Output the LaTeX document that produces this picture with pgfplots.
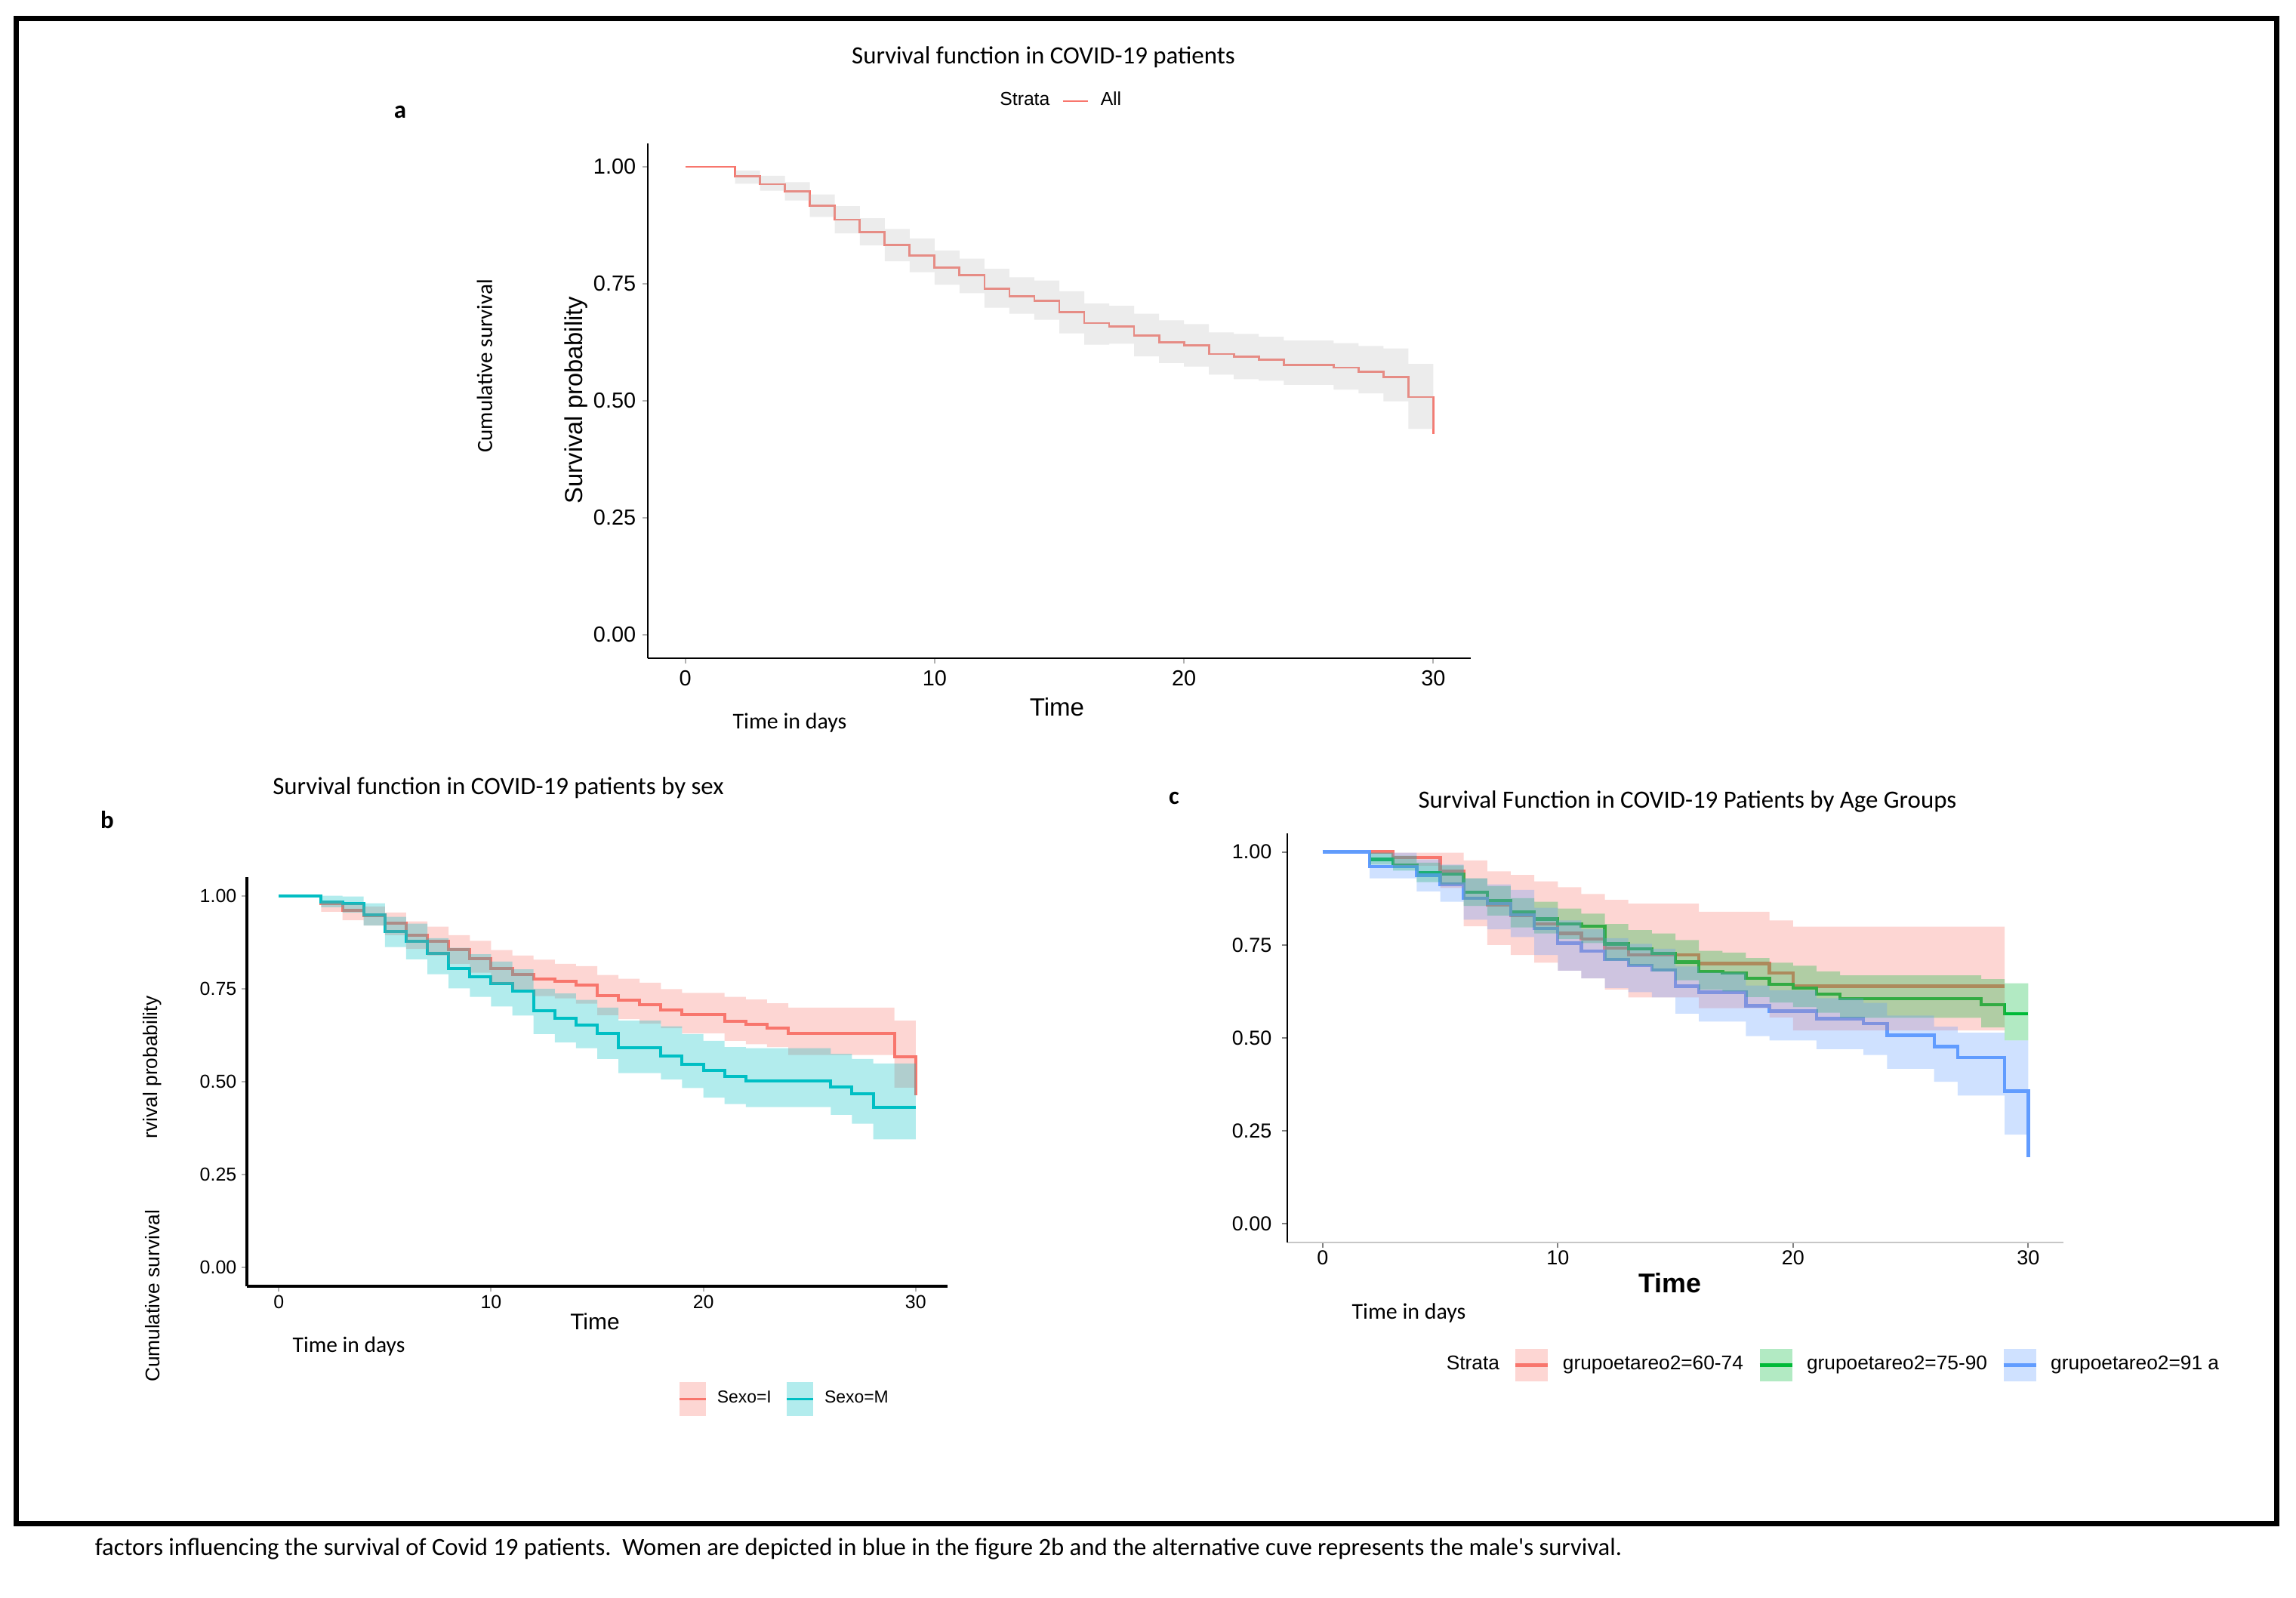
\documentclass[border=0pt]{standalone}
\usepackage{pgfplots}
\pgfplotsset{compat=1.18}
\usepackage{pgfplotstable}
\usepackage{fontspec}
\setmainfont{Liberation Sans}
\newfontfamily\calfont{Carlito}
\newcommand\fs[1]{\fontsize{#1}{#1}\selectfont}

\definecolor{kmred}{HTML}{F8766D}
\definecolor{kmcyan}{HTML}{00BFC4}
\definecolor{kmgreen}{HTML}{00BA38}
\definecolor{kmblue}{HTML}{619CFF}

% Kaplan-Meier curves: t = day, s = survival
% bands: upper limits forward (t, u), then lower limits backward (t of next step, l)
\pgfplotstableread{
t s
0 1.000
2 0.980
3 0.963
4 0.948
5 0.917
6 0.887
7 0.860
8 0.833
9 0.810
10 0.785
11 0.768
12 0.739
13 0.724
14 0.714
15 0.689
16 0.666
17 0.659
18 0.640
19 0.625
20 0.618
21 0.600
22 0.594
23 0.588
24 0.577
26 0.571
27 0.562
28 0.551
29 0.508
30 0.429
}\allS
\pgfplotstableread{
x y
0 1.000
2 0.992
3 0.981
4 0.967
5 0.941
6 0.916
7 0.890
8 0.867
9 0.847
10 0.821
11 0.804
12 0.782
13 0.764
14 0.757
15 0.734
16 0.708
17 0.703
18 0.686
19 0.672
20 0.664
21 0.646
22 0.643
23 0.637
24 0.629
26 0.623
27 0.617
28 0.612
29 0.579
30 0.579
30 0.440
29 0.499
28 0.516
27 0.524
26 0.534
24 0.543
23 0.546
22 0.556
21 0.573
20 0.581
19 0.595
18 0.622
17 0.620
16 0.644
15 0.673
14 0.686
13 0.699
12 0.730
11 0.748
10 0.775
9 0.798
8 0.832
7 0.858
6 0.893
5 0.928
4 0.949
3 0.964
2 1.000
0 1.000
}\allB

\pgfplotstableread{
t s
0 1.000
2 0.980
3 0.960
4 0.946
5 0.926
6 0.894
7 0.877
8 0.856
9 0.831
10 0.805
11 0.789
12 0.776
13 0.770
14 0.759
15 0.732
16 0.720
17 0.708
18 0.692
19 0.680
21 0.663
22 0.654
23 0.645
24 0.630
29 0.567
30 0.463
}\sexIS
\pgfplotstableread{
x y
0 1.000
2 0.986
3 0.980
4 0.971
5 0.955
6 0.931
7 0.917
8 0.894
9 0.879
10 0.854
11 0.839
12 0.828
13 0.817
14 0.811
15 0.787
16 0.777
17 0.766
18 0.749
19 0.739
21 0.728
22 0.721
23 0.711
24 0.699
29 0.664
30 0.664
30 0.484
29 0.572
24 0.593
23 0.601
22 0.610
21 0.630
19 0.644
18 0.656
17 0.668
16 0.679
15 0.710
14 0.724
13 0.730
12 0.747
11 0.762
10 0.793
9 0.817
8 0.839
7 0.857
6 0.894
5 0.920
4 0.934
3 0.957
2 1.000
0 1.000
}\sexIB

\pgfplotstableread{
t s
0 1.000
2 0.984
3 0.978
4 0.948
5 0.903
6 0.877
7 0.845
8 0.805
9 0.783
10 0.764
11 0.743
12 0.690
13 0.670
14 0.653
15 0.630
16 0.592
18 0.569
19 0.547
20 0.530
21 0.515
22 0.502
26 0.486
27 0.467
28 0.431
30 0.431
}\sexMS
\pgfplotstableread{
x y
0 1.000
2 1.000
3 0.998
4 0.980
5 0.943
6 0.925
7 0.886
8 0.860
9 0.843
10 0.823
11 0.802
12 0.750
13 0.737
14 0.720
15 0.699
16 0.664
18 0.649
19 0.628
20 0.610
21 0.593
22 0.590
26 0.575
27 0.561
28 0.549
30 0.549
30 0.345
28 0.387
27 0.411
26 0.432
22 0.440
21 0.457
20 0.483
19 0.506
18 0.523
16 0.561
15 0.590
14 0.606
13 0.628
12 0.678
11 0.702
10 0.728
9 0.751
8 0.789
7 0.829
6 0.862
5 0.920
4 0.955
3 0.969
2 1.000
0 1.000
}\sexMB

\pgfplotstableread{
t s
0 1.000
3 0.985
5 0.948
6 0.892
7 0.858
8 0.829
9 0.806
10 0.781
11 0.766
12 0.742
13 0.723
16 0.700
19 0.674
20 0.639
29 0.639
}\ageAS
\pgfplotstableread{
x y
0 1.000
3 0.998
5 0.998
6 0.977
7 0.948
8 0.938
9 0.921
10 0.905
11 0.887
12 0.871
13 0.861
16 0.839
19 0.816
20 0.799
29 0.799
29 0.520
20 0.555
19 0.580
16 0.609
13 0.630
12 0.660
11 0.681
10 0.702
9 0.723
8 0.750
7 0.800
6 0.903
5 0.963
3 1.000
0 1.000
}\ageAB

\pgfplotstableread{
t s
0 1.000
2 0.980
3 0.965
4 0.945
5 0.940
6 0.892
7 0.869
8 0.839
9 0.820
10 0.806
11 0.800
12 0.753
13 0.739
14 0.727
15 0.704
16 0.679
17 0.674
18 0.660
19 0.644
20 0.634
21 0.618
22 0.605
28 0.589
29 0.565
30 0.565
}\ageBS
\pgfplotstableread{
x y
0 1.000
2 0.998
3 0.990
4 0.971
5 0.964
6 0.929
7 0.908
8 0.876
9 0.866
10 0.848
11 0.834
12 0.806
13 0.790
14 0.781
15 0.763
16 0.734
17 0.729
18 0.715
19 0.702
20 0.694
21 0.679
22 0.668
28 0.658
29 0.647
30 0.647
30 0.493
29 0.528
28 0.554
22 0.568
21 0.583
20 0.595
19 0.610
18 0.625
17 0.630
16 0.655
15 0.679
14 0.694
13 0.708
12 0.755
11 0.766
10 0.781
9 0.797
8 0.829
7 0.855
6 0.913
5 0.919
4 0.950
3 0.966
2 1.000
0 1.000
}\ageBB

\pgfplotstableread{
t s
0 1.000
2 0.961
4 0.937
5 0.913
6 0.876
7 0.861
8 0.831
9 0.794
10 0.755
11 0.734
12 0.711
13 0.695
14 0.683
15 0.639
16 0.623
18 0.586
19 0.572
21 0.552
23 0.539
24 0.507
26 0.477
27 0.447
29 0.357
30 0.180
}\ageCS
\pgfplotstableread{
x y
0 1.000
2 0.998
4 0.980
5 0.966
6 0.929
7 0.913
8 0.898
9 0.850
10 0.816
11 0.792
12 0.768
13 0.753
14 0.740
15 0.692
16 0.676
18 0.641
19 0.628
21 0.607
23 0.594
24 0.560
26 0.530
27 0.514
29 0.493
30 0.493
30 0.240
29 0.345
27 0.382
26 0.417
24 0.454
23 0.470
21 0.493
19 0.505
18 0.544
16 0.565
15 0.609
14 0.623
13 0.634
12 0.660
11 0.681
10 0.723
9 0.771
8 0.792
7 0.818
6 0.866
5 0.894
4 0.929
2 1.000
0 1.000
}\ageCB

\pgfplotsset{
  km/.style={
    scale only axis,
    xmin=-1.5, xmax=31.5, ymin=-0.05, ymax=1.05,
    axis x line=bottom, axis y line=left,
    axis line style={-, black},
    xtick={0,10,20,30}, ytick={0,0.25,0.5,0.75,1},
    /pgf/number format/assume math mode=true,
    yticklabel style={/pgf/number format/.cd, fixed, fixed zerofill, precision=2, /tikz/.cd},
    yticklabel style={inner xsep=0pt}, xticklabel style={inner ysep=0pt},
    tick align=outside, major tick length=1.75bp,
    tick style={color=black!30, line width=0.5bp},
    legend style={draw=none, fill=none, inner sep=0pt, legend columns=-1, anchor=west,
      nodes={inner sep=0pt}},
  },
  legsep/.style 2 args={legend style={
    /tikz/every odd column/.append style={column sep=#1},
    /tikz/every even column/.append style={column sep=#2}}},
  band/.style={const plot, draw=none, fill=#1, fill opacity=0.3, forget plot},
  bandkey/.style 2 args={legend image code/.code={%
    \fill[##1, draw=none, fill opacity=0.3] (0bp,-#2) rectangle (#1,#2);
    \draw[##1] (0bp,0bp) -- (#1,0bp);}},
  linekey/.style={legend image code/.code={%
    \draw[##1] (0bp,0bp) -- (#1,0bp);}},
}

\begin{document}
\begin{tikzpicture}
\path[use as bounding box] (0,0) rectangle (760.25bp,-529.25bp);

% ---- panel a
\begin{axis}[km, at={(214.5bp,-218bp)}, anchor=south west,
  width=272.5bp, height=170.5bp,
  axis line style={line width=0.7bp},
  tick label style={font=\fs{7.25}},
  yticklabel shift=2bp, xticklabel shift=2.1bp,
  legend style={at={(0.4125,1.0821)}, font=\fs{6.2}},
  legsep={4bp}{4bp},
]
\addplot[const plot, kmred, line width=0.7bp, forget plot] table[x=t,y=s]{\allS};
\addplot[band=black!25] table[x=x,y=y]{\allB};
\addlegendimage{empty legend}\addlegendentry{Strata}
\addlegendimage{kmred, line width=0.6bp, linekey=8.25bp}\addlegendentry{All}
\end{axis}

% ---- panel b
\begin{axis}[km, at={(81.75bp,-426bp)}, anchor=south west,
  width=232bp, height=135.5bp,
  axis line style={line width=1bp},
  tick label style={font=\fs{6.25}},
  yticklabel shift=1.5bp, xticklabel shift=1bp,
  legend style={at={(0.6145,-0.276)}, font=\fs{5.75}},
  legsep={3.3bp}{4.6bp},
]
\addplot[const plot, kmred, line width=1bp, forget plot] table[x=t,y=s]{\sexIS};
\addplot[const plot, kmcyan, line width=1bp, forget plot] table[x=t,y=s]{\sexMS};
\addplot[band=kmred] table[x=x,y=y]{\sexIB};
\addplot[band=kmcyan] table[x=x,y=y]{\sexMB};
\addlegendimage{kmred, line width=0.9bp, bandkey={8.75bp}{5.6bp}}\addlegendentry{Sexo=I}
\addlegendimage{kmcyan, line width=0.9bp, bandkey={8.75bp}{5.6bp}}\addlegendentry{Sexo=M}
\end{axis}

% ---- panel c
\begin{axis}[km, at={(426.25bp,-411.5bp)}, anchor=south west,
  width=257bp, height=135.5bp,
  y axis line style={line width=0.6bp},
  x axis line style={line width=0.5bp, black!22},
  tick style={color=black!50},
  tick label style={font=\fs{6.75}},
  yticklabel shift=3.25bp, xticklabel shift=0.8bp,
  legend style={at={(0.1877,-0.3)}, font=\fs{6.6}},
  legsep={4.25bp}{4.75bp},
]
\addplot[const plot, kmred, line width=1.1bp, forget plot] table[x=t,y=s]{\ageAS};
\addplot[const plot, kmgreen, line width=1.1bp, forget plot] table[x=t,y=s]{\ageBS};
\addplot[const plot, kmblue, line width=1.1bp, forget plot] table[x=t,y=s]{\ageCS};
\addplot[band=kmred] table[x=x,y=y]{\ageAB};
\addplot[band=kmgreen] table[x=x,y=y]{\ageBB};
\addplot[band=kmblue] table[x=x,y=y]{\ageCB};
\addlegendimage{empty legend}\addlegendentry{Strata}
\addlegendimage{kmred, line width=1.25bp, bandkey={10.75bp}{5.4bp}}\addlegendentry{grupoetareo2=60-74}
\addlegendimage{kmgreen, line width=1.25bp, bandkey={10.75bp}{5.4bp}}\addlegendentry{grupoetareo2=75-90}
\addlegendimage{kmblue, line width=1.25bp, bandkey={10.75bp}{5.4bp}}\addlegendentry{grupoetareo2=91 a}
\end{axis}

% ---- text, in pixels of the original figure
\begin{scope}[x=0.25bp, y=-0.25bp]
\draw[line width=1.75bp] (22,24.5) rectangle (3015.5,2019);

\node at (1382,76) {\calfont\fs{8.25}Survival function in COVID-19 patients};
\node at (530,148) {\calfont\bfseries\fs{8.25}a};
\node[rotate=90] at (642,485) {\calfont\fs{7.3}Cumulative survival};
\node[rotate=90] at (763,530) {\fs{8.2}Survival probability};
\node at (1400,937) {\fs{8.3}Time};
\node at (1046,958) {\calfont\fs{7.5}Time in days};

\node at (660,1044) {\calfont\fs{8.25}Survival function in COVID-19 patients by sex};
\node at (142,1086) {\calfont\bfseries\fs{8.25}b};
\node[rotate=90] at (202,1414) {\fs{6.6}rvival probability};
\node[rotate=90] at (202,1717) {\fs{6.6}Cumulative survival};
\node at (788,1751) {\fs{7.5}Time};
\node at (462,1784) {\calfont\fs{7.4}Time in days};

\node at (2235,1062) {\calfont\fs{8.25}Survival Function in COVID-19 Patients by Age Groups};
\node at (1555,1058) {\calfont\bfseries\fs{8.25}c};
\node at (2212,1700) {\bfseries\fs{9}Time};
\node at (1866,1740) {\calfont\fs{7.5}Time in days};

\node[anchor=west, inner sep=0pt] at (125,2052) {\calfont\fs{8.2}factors influencing the survival of Covid 19 patients.\ \ Women are depicted in blue in the figure 2b and the alternative cuve represents the male's survival.};
\end{scope}
\end{tikzpicture}
\end{document}
